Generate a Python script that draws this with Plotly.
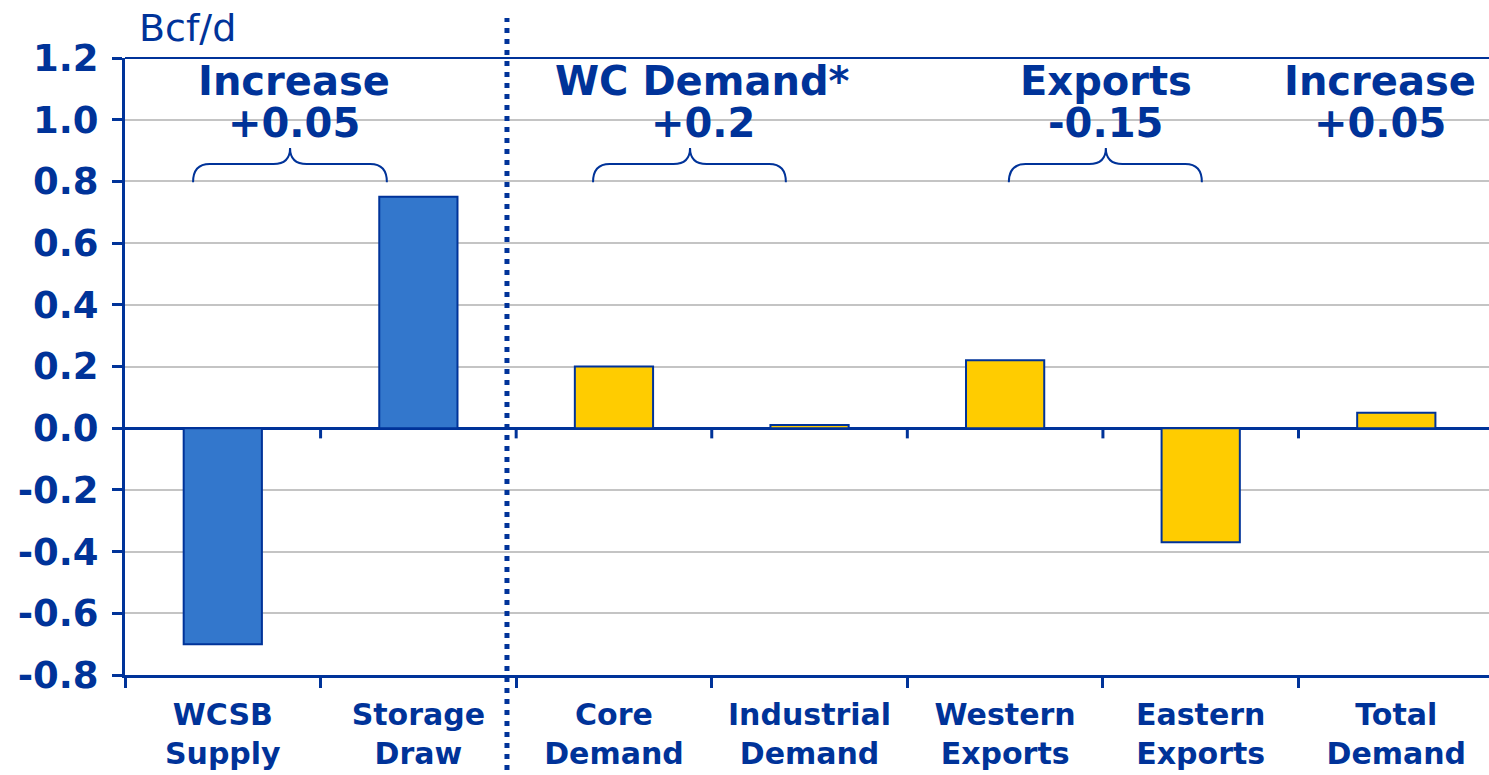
import plotly.graph_objects as go

# Category labels and the change in each component (Bcf/d)
categories = ["WCSB<br>Supply", "Storage<br>Draw", "Core<br>Demand", "Industrial<br>Demand",
              "Western<br>Exports", "Eastern<br>Exports", "Total<br>Demand"]
values = [-0.70, 0.75, 0.20, 0.01, 0.22, -0.37, 0.05]
bar_colors = ["#3377CC", "#3377CC", "#FFCC00", "#FFCC00", "#FFCC00", "#FFCC00", "#FFCC00"]

y_ticks = [-0.8, -0.6, -0.4, -0.2, 0.0, 0.2, 0.4, 0.6, 0.8, 1.0, 1.2]
y_tick_text = ["-0.8", "-0.6", "-0.4", "-0.2", "0.0", "0.2", "0.4", "0.6", "0.8", "1.0", "1.2"]

# Group headings: (x centre, first line, second line)
group_labels = [
    (0.364, "Increase", "+0.05"),
    (2.455, "WC Demand*", "+0.2"),
    (4.515, "Exports", "-0.15"),
    (5.916, "Increase", "+0.05"),
]
# Braces: (left end, tip, right end) in category units
braces = [(-0.152, 0.344, 0.839), (1.893, 2.389, 2.879), (4.019, 4.515, 5.006)]
brace_y_end, brace_y_arm, brace_y_tip = 0.797, 0.856, 0.908

divider_x = 1.453  # dotted separator between supply and demand side
x_range = [-0.5, 6.474]  # last category runs slightly past the right edge

NAVY = "#003399"
FONT = "DejaVu Sans"

fig = go.Figure()
fig.add_trace(go.Bar(
    x=list(range(len(categories))),
    y=values,
    width=0.4,
    marker=dict(color=bar_colors, line=dict(color=NAVY, width=2)),
    hoverinfo="skip",
))

shapes = []

# curly braces above each group
r = 0.085
for x0, tip, x1 in braces:
    path = (f"M {x0},{brace_y_end} Q {x0},{brace_y_arm} {x0 + r},{brace_y_arm} "
            f"L {tip - r},{brace_y_arm} Q {tip},{brace_y_arm} {tip},{brace_y_tip} "
            f"Q {tip},{brace_y_arm} {tip + r},{brace_y_arm} "
            f"L {x1 - r},{brace_y_arm} Q {x1},{brace_y_arm} {x1},{brace_y_end}")
    shapes.append(dict(type="path", path=path, xref="x", yref="y",
                       line=dict(color=NAVY, width=2)))

# tick marks hanging below the zero line at category boundaries
for b in range(len(categories) - 1):
    shapes.append(dict(type="line", xref="x", yref="y", x0=b + 0.5, x1=b + 0.5,
                       y0=0, y1=-0.033, line=dict(color=NAVY, width=3)))

# top border of the plot area
shapes.append(dict(type="line", xref="paper", yref="paper", x0=0, x1=1, y0=1, y1=1,
                   line=dict(color=NAVY, width=2)))

# dotted divider running past the plot area
div_paper = (divider_x - x_range[0]) / (x_range[1] - x_range[0])
shapes.append(dict(type="line", xref="paper", yref="paper", x0=div_paper, x1=div_paper,
                   y0=-0.154, y1=1.065, line=dict(color=NAVY, width=5, dash="5px,6px")))

annotations = [dict(text="Bcf/d", xref="paper", yref="paper", x=0.009, y=1.0486,
                    xanchor="left", yanchor="middle", showarrow=False,
                    font=dict(family=FONT, size=38, color=NAVY))]
for xc, line1, line2 in group_labels:
    for txt, yv in ((line1, 1.125), (line2, 0.99)):
        annotations.append(dict(text=txt, x=xc, y=yv, xref="x", yref="y",
                                xanchor="center", yanchor="middle", showarrow=False,
                                font=dict(family=FONT, size=40, color=NAVY, weight="bold")))

fig.update_layout(
    width=1489, height=775,
    margin=dict(l=125, r=0, t=58, b=100),
    paper_bgcolor="white", plot_bgcolor="white",
    showlegend=False,
    shapes=shapes,
    annotations=annotations,
    xaxis=dict(
        range=x_range,
        tickmode="array",
        tickvals=list(range(len(categories))),
        ticktext=categories,
        showgrid=False, zeroline=False,
        showline=True, linecolor=NAVY, linewidth=3,
        ticks="", ticklabelstandoff=11,
        tickfont=dict(family=FONT, size=30, color=NAVY, weight="bold"),
        minor=dict(tickmode="array", tickvals=[i - 0.5 for i in range(len(categories))],
                   ticks="outside", ticklen=10, tickwidth=3, tickcolor=NAVY),
    ),
    yaxis=dict(
        range=[-0.8, 1.2],
        tickmode="array", tickvals=y_ticks, ticktext=y_tick_text,
        showgrid=True, gridcolor="#C4C4C4", gridwidth=2,
        zeroline=True, zerolinecolor=NAVY, zerolinewidth=3,
        showline=True, linecolor=NAVY, linewidth=3,
        ticks="outside", ticklen=10, tickwidth=3, tickcolor=NAVY,
        ticklabelstandoff=6,
        tickfont=dict(family=FONT, size=37, color=NAVY, weight="bold"),
    ),
)

fig.write_html("out.html")
